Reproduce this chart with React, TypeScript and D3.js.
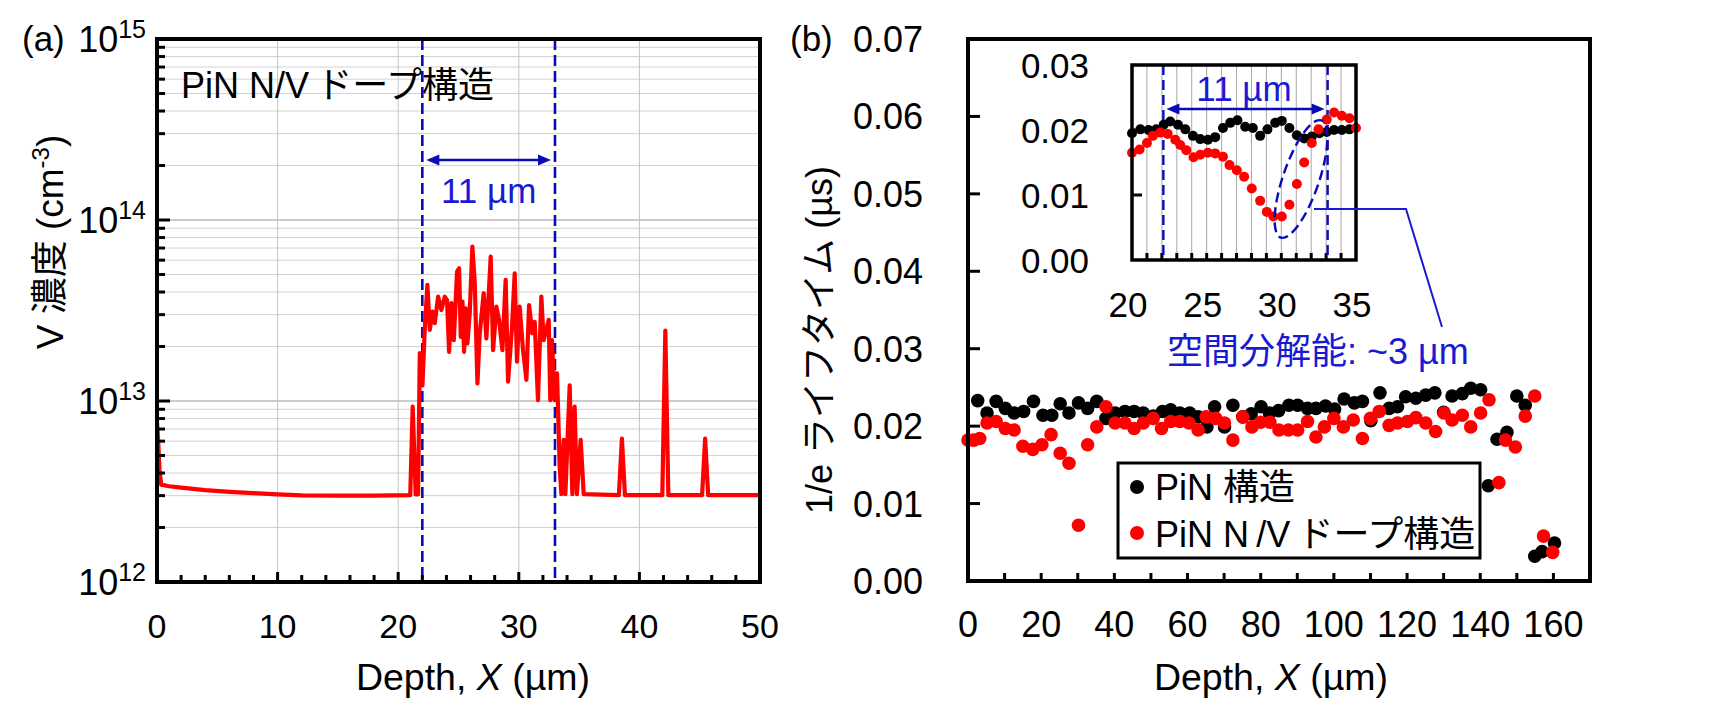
import React from 'react';
import * as d3 from 'd3';

const FONT = "'Liberation Sans', Arial, 'Noto Sans CJK JP', sans-serif";
const BLUE = '#1a1ad2';
const DASH_BLUE = '#0a0ab8';
const RED = '#ff0000';

// ---------- Panel (a): V concentration profile ----------
const depthA = [0, 0.1, 0.2, 0.35, 1, 2, 4, 6, 8, 10, 12, 15, 18, 21.0, 21.2, 21.45, 21.65, 21.79, 22.01, 22.2, 22.42, 22.62, 22.84, 23.03, 23.31, 23.58, 23.86, 24.05, 24.22, 24.41, 24.61, 24.88, 25.05, 25.19, 25.33, 25.46, 25.6, 25.74, 25.93, 26.15, 26.35, 26.57, 26.76, 27.09, 27.31, 27.67, 27.87, 28.14, 28.36, 28.64, 28.91, 29.11, 29.44, 29.66, 29.85, 30.07, 30.35, 30.63, 30.85, 31.12, 31.32, 31.59, 31.87, 32.06, 32.28, 32.48, 32.61, 32.75, 32.97, 33.17, 33.39, 33.53, 33.72, 33.86, 34.22, 34.44, 34.63, 34.82, 35.13, 35.38, 38.3, 38.55, 38.8, 41.9, 42.15, 42.4, 45.2, 45.45, 45.7, 50];
const concA = [7.6e12, 6.0e12, 4.2e12, 3.45e12, 3.38e12, 3.32e12, 3.22e12, 3.15e12, 3.1e12, 3.05e12, 3.01e12, 3.0e12, 3.0e12, 3.02e12, 9.3e12, 3.05e12, 3.05e12, 1.84e13, 1.22e13, 2.47e13, 4.38e13, 2.47e13, 3.12e13, 2.69e13, 3.77e13, 3.18e13, 3.77e13, 3.61e13, 1.87e13, 3.47e13, 2.17e13, 5.19e13, 5.41e13, 2.26e13, 3.54e13, 1.87e13, 3.25e13, 2.08e13, 3.05e13, 7.13e13, 4.47e13, 1.25e13, 2.37e13, 3.94e13, 2.22e13, 6.27e13, 1.91e13, 3.32e13, 2.81e13, 1.91e13, 4.67e13, 1.28e13, 2.58e13, 5.07e13, 1.65e13, 3.32e13, 1.91e13, 1.31e13, 3.39e13, 2.37e13, 2.74e13, 1.01e13, 3.77e13, 2.17e13, 2.47e13, 2.81e13, 1.01e13, 2.17e13, 1.01e13, 1.42e13, 4.34e12, 3.06e12, 6.1e12, 3.06e12, 1.22e13, 3.06e12, 9.3e12, 3.06e12, 6.1e12, 3.06e12, 3.02e12, 6.2e12, 3.02e12, 3.02e12, 2.45e13, 3.02e12, 3.02e12, 6.2e12, 3.02e12, 3.02e12];
const decadesA = [12, 13, 14, 15];
const xTicksA = [0, 10, 20, 30, 40, 50];
const dashedA = [22, 33];

// ---------- Panel (b): 1/e lifetime ----------
const depthBlack = [2.65, 5.2, 7.7, 10.2, 12.6, 15.2, 17.9, 20.5, 22.9, 25.2, 27.6, 30.2, 32.7, 35.2, 37.7, 40.2, 42.9, 45.4, 47.9, 50.6, 53.2, 55.4, 57.9, 60.6, 62.9, 65.3, 67.4, 70.1, 72.4, 75.1, 77.4, 80.1, 82.4, 84.9, 87.7, 90.1, 92.8, 95.1, 97.7, 100.2, 102.8, 105.6, 107.8, 110.1, 112.6, 115.1, 117.4, 119.6, 122.4, 125.1, 127.6, 130.0, 132.3, 135.1, 137.4, 140.1, 142.2, 144.6, 147.3, 150.0, 152.3, 154.9, 156.9, 160.3];
const lifeBlack = [0.0233, 0.0217, 0.0232, 0.0223, 0.0217, 0.0219, 0.0232, 0.0214, 0.0214, 0.0229, 0.0217, 0.023, 0.0223, 0.0232, 0.021, 0.0217, 0.0219, 0.0219, 0.0217, 0.0213, 0.0219, 0.0221, 0.0217, 0.0217, 0.0212, 0.0199, 0.0225, 0.0199, 0.0227, 0.0212, 0.0216, 0.0225, 0.0217, 0.022, 0.0227, 0.0227, 0.0223, 0.0223, 0.0226, 0.0222, 0.0235, 0.023, 0.0232, 0.0207, 0.0243, 0.0223, 0.0225, 0.0238, 0.0236, 0.024, 0.0243, 0.0218, 0.0239, 0.0242, 0.0249, 0.0247, 0.0123, 0.0183, 0.0192, 0.0239, 0.0227, 0.0032, 0.0038, 0.0049];
const depthRed = [0.0, 1.6, 3.2, 5.2, 7.7, 10.2, 12.6, 15.0, 17.7, 20.2, 22.7, 25.2, 27.6, 30.2, 32.7, 35.2, 37.7, 40.2, 42.9, 45.4, 47.9, 50.6, 52.9, 55.4, 57.9, 60.4, 62.9, 65.1, 67.7, 70.1, 72.4, 75.1, 77.6, 80.0, 82.5, 85.0, 87.6, 90.1, 92.8, 95.1, 97.4, 100.0, 102.6, 105.3, 107.8, 110.0, 112.4, 115.1, 117.4, 120.1, 122.4, 125.1, 127.8, 130.1, 132.3, 135.1, 137.4, 140.1, 142.4, 145.1, 146.9, 149.6, 152.3, 154.9, 157.3, 159.8];
const lifeRed = [0.0182, 0.0182, 0.0184, 0.0204, 0.0206, 0.0197, 0.0195, 0.0174, 0.017, 0.0176, 0.0189, 0.0165, 0.0152, 0.0072, 0.0176, 0.0199, 0.0225, 0.0204, 0.0204, 0.0197, 0.0204, 0.021, 0.0197, 0.0206, 0.0206, 0.0204, 0.0195, 0.0212, 0.021, 0.0204, 0.0182, 0.0212, 0.0199, 0.0205, 0.0205, 0.0195, 0.0195, 0.0195, 0.0206, 0.0186, 0.0199, 0.021, 0.0199, 0.0208, 0.0184, 0.021, 0.0219, 0.0201, 0.0204, 0.0206, 0.0211, 0.0204, 0.0193, 0.0217, 0.0208, 0.0214, 0.0199, 0.0217, 0.0234, 0.0127, 0.0182, 0.0173, 0.0213, 0.0239, 0.0058, 0.0037];
const xTicksB = [0, 20, 40, 60, 80, 100, 120, 140, 160];
const yTicksB = [0, 0.01, 0.02, 0.03, 0.04, 0.05, 0.06, 0.07];

// ---------- Inset ----------
const insetBlackX = [20.0, 20.56, 21.11, 21.63, 22.12, 22.56, 23.08, 23.57, 24.08, 24.57, 25.08, 25.57, 26.09, 26.58, 27.06, 27.58, 28.09, 28.58, 29.07, 29.59, 30.03, 30.54, 31.04, 31.53, 32.04, 32.55, 33.04, 33.53, 34.05, 34.56];
const insetBlackY = [0.0195, 0.0201, 0.02, 0.0201, 0.0208, 0.0213, 0.0208, 0.0201, 0.0191, 0.0186, 0.0185, 0.0189, 0.0203, 0.0211, 0.0215, 0.0205, 0.0203, 0.0191, 0.0201, 0.0211, 0.0214, 0.0203, 0.0192, 0.0187, 0.019, 0.0195, 0.0197, 0.02, 0.02, 0.0201];
const insetRedX = [20.0, 20.51, 21.0, 21.4, 21.9, 22.39, 22.9, 23.23, 23.63, 24.12, 24.57, 25.08, 25.57, 26.09, 26.53, 27.02, 27.51, 28.02, 28.58, 29.03, 29.47, 30.03, 30.54, 31.04, 31.53, 32.04, 32.49, 33.04, 33.53, 34.05, 34.56, 35.0];
const insetRedY = [0.0165, 0.017, 0.018, 0.0191, 0.0196, 0.0194, 0.0185, 0.0177, 0.0169, 0.0158, 0.0162, 0.0165, 0.0164, 0.0159, 0.0146, 0.0138, 0.0128, 0.011, 0.0091, 0.0074, 0.0067, 0.0067, 0.0085, 0.0117, 0.015, 0.018, 0.0201, 0.0216, 0.0227, 0.0222, 0.0218, 0.0203];
const insetXTicks = [20, 25, 30, 35];
const insetYTicks = [0, 0.01, 0.02, 0.03];
const insetDashed = [22.1, 33.1];

function Arrow({ x1, x2, y, color }: { x1: number; x2: number; y: number; color: string }) {
  const L = 13, W = 5.5;
  return (
    <g>
      <line x1={x1 + L - 2} x2={x2 - L + 2} y1={y} y2={y} stroke={color} strokeWidth={2.5} />
      <path d={`M${x1},${y} L${x1 + L},${y - W} L${x1 + L},${y + W} Z`} fill={color} />
      <path d={`M${x2},${y} L${x2 - L},${y - W} L${x2 - L},${y + W} Z`} fill={color} />
    </g>
  );
}

export default function App() {
  const xA = d3.scaleLinear().domain([0, 50]).range([157, 760]);
  const yA = d3.scaleLog().domain([1e12, 1e15]).range([582, 39]);
  const xB = d3.scaleLinear().domain([0, 170]).range([968, 1590]);
  const yB = d3.scaleLinear().domain([0, 0.07]).range([581, 39]);
  const xI = d3.scaleLinear().domain([20, 35]).range([1132, 1356]);
  const yI = d3.scaleLinear().domain([0, 0.03]).range([260, 65]);

  const lineA = d3.line<number>().x((_, i) => xA(depthA[i])).y((d) => yA(d));
  const minorA: number[] = [];
  for (let d = 12; d < 15; d++) for (let m = 2; m <= 9; m++) minorA.push(m * Math.pow(10, d));
  const minorXA = d3.range(0, 51, 2).filter((v) => v % 10 !== 0);
  const xMinorB = d3.range(10, 170, 20);
  const insetGrid = d3.range(21, 35, 1);

  const [aL, aR] = xA.range();
  const [aB, aT] = yA.range();
  const [bL, bR] = xB.range();
  const [bB, bT] = yB.range();
  const [iL, iR] = xI.range();
  const [iB, iT] = yI.range();

  return (
    <svg width={1717} height={702} style={{ position: 'absolute', left: 0, top: 0, background: '#fff' }} fontFamily={FONT}>
      <rect x={0} y={0} width={1717} height={702} fill="#fff" />

      {/* ================= Panel (a) ================= */}
      {minorA.map((v) => (
        <line key={'gm' + v} x1={aL} x2={aR} y1={yA(v)} y2={yA(v)} stroke="#d2d2d2" strokeWidth={1} />
      ))}
      {decadesA.slice(1, 3).map((d) => (
        <line key={'gd' + d} x1={aL} x2={aR} y1={yA(Math.pow(10, d))} y2={yA(Math.pow(10, d))} stroke="#9a9a9a" strokeWidth={1.2} />
      ))}
      {xTicksA.slice(1, -1).map((v) => (
        <line key={'gx' + v} x1={xA(v)} x2={xA(v)} y1={aT} y2={aB} stroke="#c4c4c4" strokeWidth={1} />
      ))}
      {dashedA.map((v) => (
        <line key={'da' + v} x1={xA(v)} x2={xA(v)} y1={aT} y2={aB} stroke={DASH_BLUE} strokeWidth={2.6} strokeDasharray="11 5" />
      ))}
      <path d={lineA(concA) || ''} fill="none" stroke={RED} strokeWidth={4.2} strokeLinejoin="round" />
      {minorA.map((v) => (
        <line key={'tm' + v} x1={aL} x2={aL + 8} y1={yA(v)} y2={yA(v)} stroke="#000" strokeWidth={3} />
      ))}
      {decadesA.map((d) => (
        <line key={'td' + d} x1={aL} x2={aL + 13} y1={yA(Math.pow(10, d))} y2={yA(Math.pow(10, d))} stroke="#000" strokeWidth={3} />
      ))}
      {minorXA.map((v) => (
        <line key={'txm' + v} x1={xA(v)} x2={xA(v)} y1={aB} y2={aB - 7} stroke="#000" strokeWidth={3} />
      ))}
      {xTicksA.map((v) => (
        <line key={'tx' + v} x1={xA(v)} x2={xA(v)} y1={aB} y2={aB - 10} stroke="#000" strokeWidth={3} />
      ))}
      <rect x={aL} y={aT} width={aR - aL} height={aB - aT} fill="none" stroke="#000" strokeWidth={4} />
      {decadesA.map((d) => (
        <text key={'ly' + d} x={146} y={yA(Math.pow(10, d)) + 13} textAnchor="end" fill="#000">
          <tspan fontSize={36}>10</tspan>
          <tspan fontSize={25} dy={-14}>{d}</tspan>
        </text>
      ))}
      {xTicksA.map((v) => (
        <text key={'lx' + v} x={xA(v)} y={638} textAnchor="middle" fontSize={34} fill="#000">{v}</text>
      ))}
      <text x={473} y={690} textAnchor="middle" fontSize={37.5} fill="#000">
        Depth, <tspan fontStyle="italic">X</tspan> (µm)
      </text>
      <text transform="translate(63,242) rotate(-90)" textAnchor="middle" fontSize={37} fill="#000">
        V 濃度 (cm<tspan fontSize={24} dy={-14}>-3</tspan><tspan dy={14}>)</tspan>
      </text>
      <text x={22} y={51} fontSize={35} fill="#000">(a)</text>
      <text x={181} y={98} fontSize={36} fill="#000">PiN N/V{'\u2009'}ドープ構造</text>
      <Arrow x1={xA(dashedA[0]) + 4} x2={xA(dashedA[1]) - 4} y={160} color={DASH_BLUE} />
      <text x={(xA(dashedA[0]) + xA(dashedA[1])) / 2} y={203} textAnchor="middle" fontSize={35} fill={BLUE}>11 µm</text>

      {/* ================= Panel (b) ================= */}
      {yTicksB.map((v) => (
        <line key={'tyb' + v} x1={bL} x2={bL + 12} y1={yB(v)} y2={yB(v)} stroke="#000" strokeWidth={3} />
      ))}
      {xTicksB.concat(xMinorB).map((v) => (
        <line key={'txb' + v} x1={xB(v)} x2={xB(v)} y1={bB} y2={bB - 8} stroke="#000" strokeWidth={3} />
      ))}
      {lifeBlack.map((v, i) => (
        <circle key={'bk' + i} cx={xB(depthBlack[i])} cy={yB(v)} r={6.8} fill="#000" />
      ))}
      {lifeRed.map((v, i) => (
        <circle key={'rd' + i} cx={xB(depthRed[i])} cy={yB(v)} r={6.8} fill={RED} />
      ))}
      <rect x={bL} y={bT} width={bR - bL} height={bB - bT} fill="none" stroke="#000" strokeWidth={4} />
      {yTicksB.map((v) => (
        <text key={'lyb' + v} x={923} y={yB(v) + 13} textAnchor="end" fontSize={36} fill="#000">{v.toFixed(2)}</text>
      ))}
      {xTicksB.map((v) => (
        <text key={'lxb' + v} x={xB(v)} y={637} textAnchor="middle" fontSize={36} fill="#000">{v}</text>
      ))}
      <text x={1271} y={690} textAnchor="middle" fontSize={37.5} fill="#000">
        Depth, <tspan fontStyle="italic">X</tspan> (µm)
      </text>
      <text transform="translate(832,340) rotate(-90)" textAnchor="middle" fontSize={36} fill="#000">1/e ライフタイム (µs)</text>
      <text x={790} y={51} fontSize={35} fill="#000">(b)</text>

      {/* legend */}
      <rect x={1118} y={463} width={362} height={95} fill="#fff" stroke="#000" strokeWidth={3} />
      <circle cx={1137} cy={487} r={7} fill="#000" />
      <text x={1155} y={500} fontSize={36} fill="#000">PiN 構造</text>
      <circle cx={1137} cy={533} r={7} fill={RED} />
      <text x={1155} y={547} fontSize={36} fill="#000">PiN N{'\u2009'}/V{'\u2009'}ドープ構造</text>

      {/* ================= Inset ================= */}
      <rect x={iL} y={iT} width={iR - iL} height={iB - iT} fill="#fff" />
      {insetGrid.map((v) => (
        <line key={'ig' + v} x1={xI(v)} x2={xI(v)} y1={iT} y2={iB} stroke="#a8a8a8" strokeWidth={1} />
      ))}
      {insetGrid.map((v) => (
        <line key={'it' + v} x1={xI(v)} x2={xI(v)} y1={iB} y2={iB - 7} stroke="#000" strokeWidth={3} />
      ))}
      {insetYTicks.slice(1, 3).map((v) => (
        <line key={'iyt' + v} x1={iL} x2={iL + 10} y1={yI(v)} y2={yI(v)} stroke="#000" strokeWidth={3} />
      ))}
      {insetDashed.map((v) => (
        <line key={'idl' + v} x1={xI(v)} x2={xI(v)} y1={iT} y2={iB} stroke={DASH_BLUE} strokeWidth={2.4} strokeDasharray="10 5" />
      ))}
      {insetBlackY.map((v, i) => (
        <circle key={'ib' + i} cx={xI(insetBlackX[i])} cy={yI(v)} r={5} fill="#000" />
      ))}
      {insetRedY.map((v, i) => (
        <circle key={'ir' + i} cx={xI(insetRedX[i])} cy={yI(v)} r={5} fill={RED} />
      ))}
      <Arrow x1={xI(insetDashed[0]) + 3} x2={xI(insetDashed[1]) - 3} y={109} color={DASH_BLUE} />
      <text x={1244} y={101} textAnchor="middle" fontSize={35} fill={BLUE}>11 µm</text>
      <rect x={iL} y={iT} width={iR - iL} height={iB - iT} fill="none" stroke="#000" strokeWidth={3.5} />
      {insetYTicks.map((v) => (
        <text key={'iyl' + v} x={1089} y={yI(v) + 13} textAnchor="end" fontSize={35} fill="#000">{v.toFixed(2)}</text>
      ))}
      {insetXTicks.map((v) => (
        <text key={'ixl' + v} x={xI(v) - 4} y={317} textAnchor="middle" fontSize={35} fill="#000">{v}</text>
      ))}

      {/* resolution annotation */}
      <ellipse cx={1301} cy={179} rx={18} ry={62} transform="rotate(19,1301,179)" fill="none" stroke={DASH_BLUE} strokeWidth={2.4} strokeDasharray="10 5" />
      <polyline points="1314,209 1406,209 1442,327" fill="none" stroke={BLUE} strokeWidth={2} />
      <text x={1167} y={364} fontSize={36} fill={BLUE}>空間分解能: ~3 µm</text>
    </svg>
  );
}
